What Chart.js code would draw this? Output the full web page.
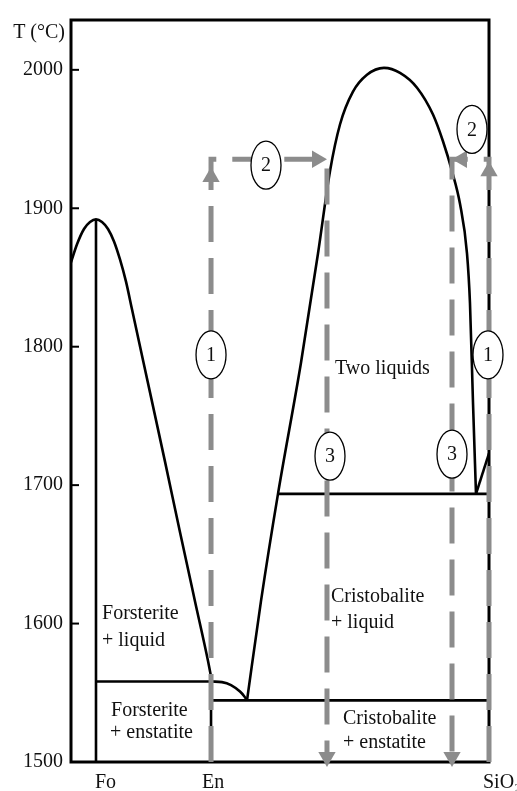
<!DOCTYPE html>
<html>
<head>
<meta charset="utf-8">
<script src="https://cdn.jsdelivr.net/npm/chart.js@4.4.1/dist/chart.umd.min.js"></script>
<style>
  html, body { margin: 0; padding: 0; background: #fff; }
</style>
</head>
<body>
<canvas id="phase" width="517" height="791"></canvas>
<script>
// Fo - SiO2 phase diagram. x: composition (0 = left edge, 100 = SiO2), y: T in °C
const xNames = ['Fo', 'En', 'SiO₂'];
const xNamePos = [5.74, 31.34, 98.56];
const yTicks = [1500, 1600, 1700, 1800, 1900, 2000];

// liquidus on the forsterite side
const foLiqX = [0, 1.44, 3.11, 4.55, 5.98, 7.42, 8.85, 10.29, 11.72, 13.16, 14.59, 18.9, 22.49, 26.08, 29.67, 32.78, 33.73];
const foLiqT = [1861, 1874, 1885, 1890, 1892, 1890, 1885, 1876, 1863, 1847, 1827, 1767, 1717, 1666, 1616, 1573, 1558];

// peritectic -> eutectic
const periX = [33.73, 36.12, 38.28, 40.43, 41.39, 42.11];
const periT = [1558.1, 1557.7, 1555.6, 1550.9, 1547.7, 1544.5];

// cristobalite liquidus + two-liquid dome
const domeX = [42.11, 45.45, 49.52, 55.02, 59.09, 61.96, 64.35, 67.46, 70.81, 74.88, 78.71, 82.78, 86.6, 88.99, 91.15, 93.06, 94.74, 95.45, 96.17, 96.89];
const domeT = [1544.5, 1616.2, 1693.7, 1788.4, 1867.3, 1926.8, 1960.5, 1984.2, 1996.4, 2001.4, 1997.8, 1987.1, 1967.7, 1948.4, 1926.8, 1903.2, 1867.3, 1831.4, 1759.7, 1693.7];

// short liquidus up to SiO2
const cristX = [96.89, 100];
const cristT = [1693.7, 1723];

// straight boundaries
const foLineX = [5.98, 5.98];      const foLineT = [1891.7, 1500];
const enLineX = [33.5, 33.5];      const enLineT = [1558.1, 1500];
const periLineX = [5.98, 33.73];   const periLineT = [1558.1, 1558.1];
const eutLineX = [33.5, 100];      const eutLineT = [1544.5, 1544.5];
const monoLineX = [49.52, 100];    const monoLineT = [1693.7, 1693.7];

// grey step paths (1 up, 2 across, 3 down)
const pathAX = [33.5, 33.5, 61.24, 61.24];
const pathAT = [1500, 1935.4, 1935.4, 1500];
const pathBX = [100, 100, 91.15, 91.15];
const pathBT = [1500, 1935.4, 1935.4, 1500];

// arrow heads
const arrowX = [33.5, 58.85, 61.24, 100, 93.54, 91.15];
const arrowT = [1922.5, 1935.4, 1503.6, 1926.8, 1935.4, 1503.6];

// numbered ellipses
const stepNames = ['1', '2', '3', '1', '2', '3'];
const stepX = [33.5, 46.65, 61.96, 99.76, 95.93, 91.15];
const stepT = [1794.1, 1931.1, 1721.0, 1794.1, 1957.0, 1722.4];

// field labels
const fieldText = ['Forsterite', '+ liquid', 'Forsterite', '+ enstatite', 'Two liquids', 'Cristobalite', '+ liquid', 'Cristobalite', '+ enstatite'];
const fieldX = [7.42, 7.42, 9.57, 9.33, 63.16, 62.2, 62.2, 65.07, 65.07];
const fieldT = [1606.9, 1587.5, 1537.3, 1520.8, 1784.1, 1619.1, 1600.4, 1531.6, 1513.6];

const SERIF = '"Liberation Serif", "Times New Roman", serif';
const GREY = '#8c8c8c';
const INK = '#111';

const pts = (xs, ts) => xs.map((x, i) => ({ x: x, y: ts[i] }));

function blackLine(xs, ts, smooth) {
  return {
    data: pts(xs, ts),
    showLine: true,
    borderColor: '#000',
    borderWidth: 2.6,
    pointRadius: 0,
    tension: smooth ? 0.4 : 0,
    cubicInterpolationMode: smooth ? 'monotone' : 'default',
    order: 5
  };
}

function greyPath(xs, ts) {
  return {
    data: pts(xs, ts),
    showLine: true,
    borderColor: GREY,
    borderWidth: 5,
    borderDash: [36, 16],
    borderCapStyle: 'butt',
    pointRadius: 0,
    tension: 0,
    order: 2,
    clip: false
  };
}

const framePlugin = {
  id: 'frame',
  beforeDatasetsDraw(chart) {
    const { ctx, chartArea: a, scales } = chart;
    ctx.save();
    ctx.strokeStyle = '#000';
    ctx.lineWidth = 3;
    ctx.strokeRect(a.left, a.top, a.right - a.left, a.bottom - a.top);
    // inner tick marks
    ctx.lineWidth = 2;
    yTicks.forEach(v => {
      if (v === yTicks[0]) return;
      const y = scales.y.getPixelForValue(v);
      ctx.beginPath();
      ctx.moveTo(a.left, y);
      ctx.lineTo(a.left + 8, y);
      ctx.stroke();
    });
    ctx.restore();
  },
  afterDatasetsDraw(chart) {
    const { ctx, chartArea: a, scales } = chart;
    const sx = scales.x, sy = scales.y;
    ctx.save();
    // numbered ellipses
    stepNames.forEach((n, i) => {
      const x = sx.getPixelForValue(stepX[i]);
      const y = sy.getPixelForValue(stepT[i]);
      ctx.beginPath();
      ctx.ellipse(x, y, 15, 24, 0, 0, Math.PI * 2);
      ctx.fillStyle = '#fff';
      ctx.fill();
      ctx.lineWidth = 1.3;
      ctx.strokeStyle = '#000';
      ctx.stroke();
      ctx.fillStyle = INK;
      ctx.font = '20px ' + SERIF;
      ctx.textAlign = 'center';
      ctx.textBaseline = 'middle';
      ctx.fillText(n, x, y + 1);
    });
    // field labels
    ctx.font = '20px ' + SERIF;
    ctx.fillStyle = INK;
    ctx.textAlign = 'left';
    ctx.textBaseline = 'middle';
    fieldText.forEach((t, i) => {
      ctx.fillText(t, sx.getPixelForValue(fieldX[i]), sy.getPixelForValue(fieldT[i]));
    });
    // composition names under the axis
    xNames.forEach((t, i) => {
      ctx.fillText(t, sx.getPixelForValue(xNamePos[i]), a.bottom + 21);
    });
    // axis title
    ctx.textAlign = 'right';
    ctx.fillText('T (°C)', a.left - 6, a.top + 13);
    ctx.restore();
  }
};

new Chart(document.getElementById('phase'), {
  type: 'scatter',
  data: {
    datasets: [
      {
        data: pts(arrowX, arrowT),
        pointStyle: 'triangle',
        pointRadius: 10,
        pointRotation: [0, 90, 180, 0, 270, 180],
        backgroundColor: GREY,
        borderWidth: 0,
        showLine: false,
        order: 1,
        clip: false
      },
      greyPath(pathAX, pathAT),
      greyPath(pathBX, pathBT),
      blackLine(foLiqX, foLiqT, true),
      blackLine(periX, periT, true),
      blackLine(domeX, domeT, true),
      blackLine(cristX, cristT, false),
      blackLine(foLineX, foLineT, false),
      blackLine(enLineX, enLineT, false),
      blackLine(periLineX, periLineT, false),
      blackLine(eutLineX, eutLineT, false),
      blackLine(monoLineX, monoLineT, false)
    ]
  },
  options: {
    responsive: false,
    animation: false,
    events: [],
    layout: { padding: { top: 15, right: 28, left: 0, bottom: 0 } },
    plugins: { legend: { display: false }, tooltip: { enabled: false } },
    scales: {
      x: {
        type: 'linear',
        min: 0,
        max: 100,
        grid: { display: false, drawTicks: false },
        border: { display: false },
        ticks: { display: false },
        afterFit: s => { s.height = 29; }
      },
      y: {
        type: 'linear',
        min: 1500,
        max: 2036,
        grid: { display: false, drawTicks: false },
        border: { display: false },
        afterBuildTicks: s => { s.ticks = yTicks.map(v => ({ value: v })); },
        ticks: {
          padding: 8,
          color: INK,
          font: { family: SERIF, size: 20 },
          callback: v => String(v)
        },
        afterFit: s => { s.width = 71; }
      }
    }
  },
  plugins: [framePlugin]
});
</script>
</body>
</html>
